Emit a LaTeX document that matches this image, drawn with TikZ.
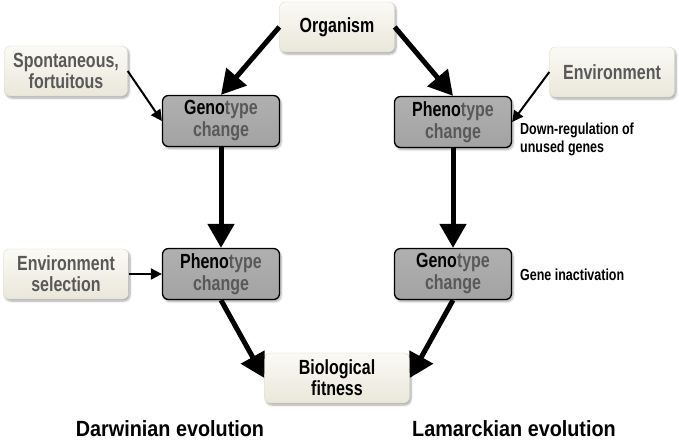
\documentclass[tikz,border=0pt]{standalone}
\usepackage{fontspec}
\setmainfont{Liberation Sans}
\newfontfamily\narrowfont[FakeStretch=0.78]{Liberation Sans}
\newfontfamily\titlefont[FakeStretch=0.9]{Liberation Sans}
\usetikzlibrary{arrows.meta,shadows.blur}
\definecolor{txtgray}{HTML}{595959}
\definecolor{cream}{HTML}{EAE7DA}
\definecolor{creamtop}{HTML}{FBFAF5}
\definecolor{creamborder}{HTML}{DDDACB}
\definecolor{boxgray}{HTML}{A3A3A3}
\definecolor{boxgraytop}{HTML}{B0B0B0}
\begin{document}
\begin{tikzpicture}[x=1pt,y=-1pt,
  lightbox/.style={rounded corners=6pt, top color=creamtop, bottom color=cream, draw=creamborder, line width=0.4pt,
    minimum height=50pt, align=center, font=\narrowfont\bfseries\fontsize{20.5}{21}\selectfont,
    blur shadow={shadow xshift=1.5pt, shadow yshift=-2pt, shadow blur steps=6, shadow opacity=35}},
  graybox/.style={rounded corners=6pt, top color=boxgraytop, bottom color=boxgray, draw=black, line width=1.3pt,
    minimum width=117pt, minimum height=51pt, align=center, font=\narrowfont\bfseries\fontsize{20.5}{22}\selectfont, text=txtgray,
    blur shadow={shadow xshift=1.5pt, shadow yshift=-2pt, shadow blur steps=6, shadow opacity=35}},
  note/.style={align=left, anchor=west, font=\narrowfont\bfseries\fontsize{16}{18}\selectfont, inner sep=0pt},
  title/.style={font=\titlefont\bfseries\fontsize{22}{24}\selectfont, inner sep=0pt},
  bigarrow/.style={line width=5pt, -{Triangle[length=24pt,width=26pt]}},
  smallarrow/.style={line width=2pt, -{Triangle[length=11pt,width=11pt]}},
]
\useasboundingbox (0,0) rectangle (679,440);

\node[lightbox, minimum width=115pt] (org) at (337,27) {Organism};
\node[lightbox, minimum width=123pt, text=txtgray] (spont) at (66,71) {Spontaneous,\\fortuitous};
\node[lightbox, minimum width=125pt, text=txtgray] (env) at (612,72) {Environment};
\node[lightbox, minimum width=125pt, text=txtgray] (envsel) at (66,274) {Environment\\selection};
\node[lightbox, minimum width=145pt] (bio) at (337,378) {Biological\\fitness};

\node[graybox] (g1) at (221,121) {\textcolor{black}{Geno}type\\change};
\node[graybox] (p1) at (453,122) {\textcolor{black}{Pheno}type\\change};
\node[graybox] (p2) at (221,274) {\textcolor{black}{Pheno}type\\change};
\node[graybox] (g2) at (453,274) {\textcolor{black}{Geno}type\\change};

\node[note] (down) at (520,139) {Down-regulation of\\unused genes};
\node[note] (inact) at (520,275) {Gene inactivation};

\node[title, anchor=base] (darwin) at (170,436) {Darwinian evolution};
\node[title, anchor=base] (lamarck) at (514,436) {Lamarckian evolution};

\draw[bigarrow] (org.west) -- (g1.north);
\draw[bigarrow] (org.east) -- (p1.north);
\draw[bigarrow] (g1.south) -- (p2.north);
\draw[bigarrow] (p1.south) -- (g2.north);
\draw[bigarrow] (p2.south) -- (bio.west);
\draw[bigarrow] (g2.south) -- (bio.east);

\draw[smallarrow] (spont.east) -- (g1.west);
\draw[smallarrow] (env.west) -- (p1.east);
\draw[smallarrow] (envsel.east) -- (p2.west);
\end{tikzpicture}
\end{document}
